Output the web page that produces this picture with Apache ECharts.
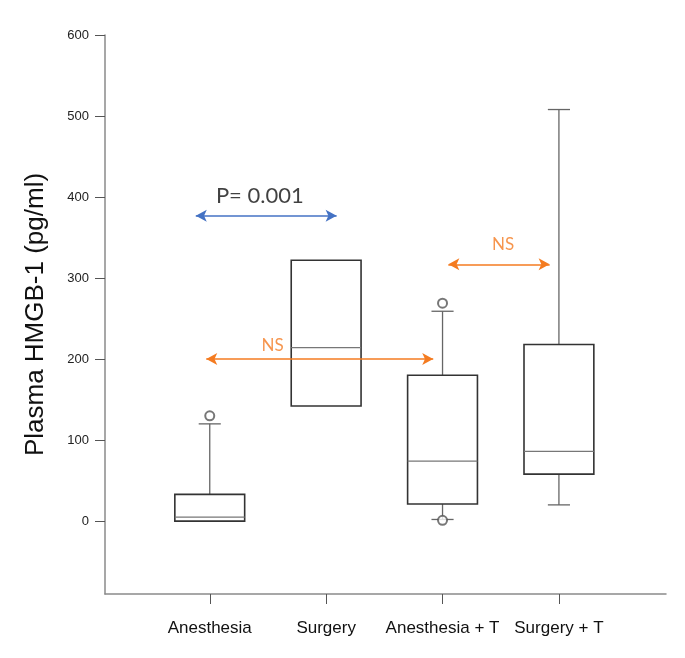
<!DOCTYPE html>
<html>
<head>
<meta charset="utf-8">
<script src="https://cdn.jsdelivr.net/npm/echarts@6/dist/echarts.min.js"></script>
<style>
  html, body { margin: 0; padding: 0; background: #fff; }
  #main { width: 685px; height: 658px; }
</style>
</head>
<body>
<div id="main"></div>
<script>
var categories = ['Anesthesia', 'Surgery', 'Anesthesia + T', 'Surgery + T'];
var lowWhisker = [0, 142, 2, 20];
var q1 = [0, 142, 21, 58];
var median = [5, 214, 74, 86];
var q3 = [33, 322, 180, 218];
var highWhisker = [120, 322, 259, 508];
// [group position, value]
var outliers = [[1, 130], [3, 269], [3, 1]];

var yTicks = [0, 100, 200, 300, 400, 500, 600];

// comparison arrows, [x, y] in data units
var pArrow = [[0.88, 377], [2.09, 377]];
var nsArrow1 = [[0.97, 200], [2.92, 200]];
var nsArrow2 = [[3.05, 317], [3.92, 317]];
var notes = [
  { name: 'P= 0.001', value: [1.43, 401] },
  { name: 'NS', value: [1.54, 217] },
  { name: 'NS', value: [3.52, 341] }
];

var chart = echarts.init(document.getElementById('main'));

var boxData = categories.map(function (c, i) {
  return [i + 1, lowWhisker[i], q1[i], median[i], q3[i], highWhisker[i]];
});

function renderBox(params, api) {
  var x = api.value(0);
  var band = api.size([1, 0])[0];
  var half = band * 0.3;
  var cap = band * 0.095;
  var pLow = api.coord([x, api.value(1)]);
  var pQ1 = api.coord([x, api.value(2)]);
  var pMed = api.coord([x, api.value(3)]);
  var pQ3 = api.coord([x, api.value(4)]);
  var pHigh = api.coord([x, api.value(5)]);
  var cx = pQ1[0];
  var children = [];
  var whiskerStyle = { stroke: '#666', lineWidth: 1.3 };
  if (api.value(5) > api.value(4)) {
    children.push({ type: 'line', shape: { x1: cx, y1: pQ3[1], x2: cx, y2: pHigh[1] }, style: whiskerStyle });
    children.push({ type: 'line', shape: { x1: cx - cap, y1: pHigh[1], x2: cx + cap, y2: pHigh[1] }, style: whiskerStyle });
  }
  if (api.value(1) < api.value(2)) {
    children.push({ type: 'line', shape: { x1: cx, y1: pQ1[1], x2: cx, y2: pLow[1] }, style: whiskerStyle });
    children.push({ type: 'line', shape: { x1: cx - cap, y1: pLow[1], x2: cx + cap, y2: pLow[1] }, style: whiskerStyle });
  }
  children.push({
    type: 'rect',
    shape: { x: cx - half, y: pQ3[1], width: half * 2, height: pQ1[1] - pQ3[1] },
    style: { fill: 'none', stroke: '#333', lineWidth: 1.6 }
  });
  children.push({
    type: 'line',
    shape: { x1: cx - half, y1: pMed[1], x2: cx + half, y2: pMed[1] },
    style: { stroke: '#777', lineWidth: 1.3 }
  });
  return { type: 'group', children: children };
}

function arrowLine(pts, color) {
  return [
    { coord: pts[0], lineStyle: { color: color, width: 1.6, type: 'solid' } },
    { coord: pts[1] }
  ];
}

var option = {
  animation: false,
  backgroundColor: '#fff',
  grid: { left: 105, right: 19, top: 35, bottom: 64 },
  xAxis: {
    type: 'value',
    min: 0.1,
    max: 4.92,
    splitLine: { show: false },
    axisLine: { show: true, onZero: false, lineStyle: { color: '#8a8a8a', width: 1.5 } },
    axisTick: { show: true, length: 10, customValues: [1, 2, 3, 4], lineStyle: { color: '#555', width: 1 } },
    axisLabel: {
      customValues: [1, 2, 3, 4],
      margin: 26,
      color: '#111',
      fontFamily: 'Liberation Sans',
      fontSize: 17,
      formatter: function (v) { return categories[Math.round(v) - 1] || ''; }
    }
  },
  yAxis: {
    type: 'value',
    min: -90,
    max: 600,
    name: 'Plasma HMGB-1 (pg/ml)',
    nameLocation: 'middle',
    nameGap: 56,
    nameTextStyle: { fontFamily: 'Liberation Sans', fontSize: 26, color: '#111' },
    splitLine: { show: false },
    axisLine: { show: true, onZero: false, lineStyle: { color: '#8a8a8a', width: 1.5 } },
    axisTick: { show: true, length: 10, customValues: yTicks, lineStyle: { color: '#555', width: 1 } },
    axisLabel: {
      customValues: yTicks,
      margin: 16,
      color: '#222',
      fontFamily: 'Liberation Sans',
      fontSize: 13
    }
  },
  series: [
    {
      type: 'custom',
      renderItem: renderBox,
      data: boxData,
      encode: { x: 0, y: [1, 2, 3, 4, 5] },
      silent: true
    },
    {
      type: 'scatter',
      data: outliers,
      symbol: 'emptyCircle',
      symbolSize: 9,
      itemStyle: { color: '#555', borderColor: '#555', borderWidth: 1.2 },
      silent: true
    },
    {
      type: 'scatter',
      data: notes,
      symbolSize: 1,
      itemStyle: { color: 'transparent' },
      silent: true,
      label: {
        show: true,
        position: 'inside',
        formatter: '{b}',
        fontFamily: 'Lato',
        fontSize: 17,
        color: '#F47B20'
      },
      markLine: {
        silent: true,
        symbol: ['arrow', 'arrow'],
        symbolSize: [9, 11],
        label: { show: false },
        data: [
          arrowLine(pArrow, '#4472C4'),
          arrowLine(nsArrow1, '#F47B20'),
          arrowLine(nsArrow2, '#F47B20')
        ]
      }
    }
  ]
};

// p value note in black and larger
option.series[2].data[0] = {
  name: notes[0].name,
  value: notes[0].value,
  label: { color: '#111', fontSize: 22 }
};

chart.setOption(option);
</script>
</body>
</html>
